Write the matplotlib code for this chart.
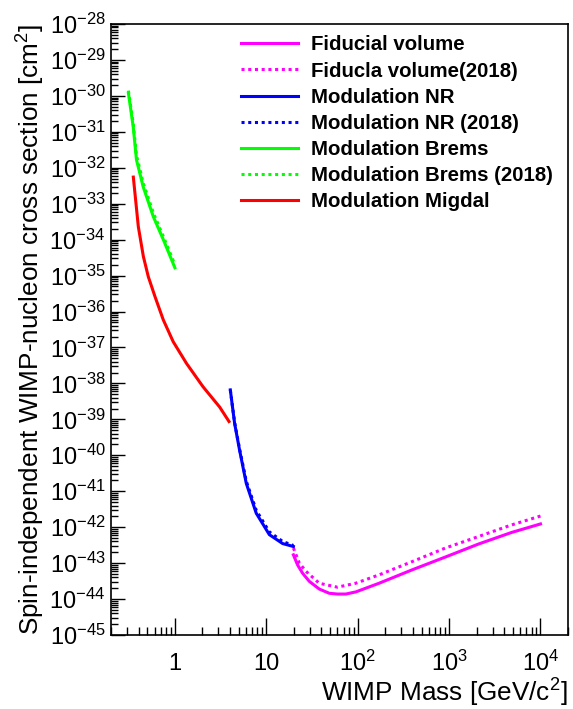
import matplotlib
matplotlib.use("Agg")
import matplotlib.pyplot as plt
from matplotlib.ticker import LogLocator, NullFormatter
from matplotlib.lines import Line2D

plt.rcParams['font.family'] = ['Liberation Sans', 'DejaVu Sans']
plt.rcParams['mathtext.fontset'] = 'custom'
plt.rcParams['mathtext.rm'] = 'Liberation Sans'
plt.rcParams['mathtext.it'] = 'Liberation Sans:italic'
plt.rcParams['mathtext.bf'] = 'Liberation Sans:bold'

# ---- data ----
fid_x = [19.8, 22.0, 25.0, 29.6, 38.0, 48.8, 60.1, 74.1, 95.3, 171, 394, 912, 2100, 4800, 10000]
fid_y = [1.70e-43, 8.9e-44, 5.2e-44, 3.1e-44, 1.9e-44, 1.45e-44, 1.38e-44, 1.38e-44, 1.58e-44,
         2.75e-44, 6.5e-44, 1.48e-43, 3.4e-43, 7.1e-43, 1.23e-42]

fid18_x = [19.8, 23.0, 27.2, 38.0, 60.0, 95.0, 171, 394, 912, 2100, 4800, 10000]
fid18_y = [2.63e-43, 1.0e-43, 5.9e-44, 2.75e-44, 2.14e-44, 2.75e-44, 4.7e-44, 1.1e-43,
           2.63e-43, 5.5e-43, 1.15e-42, 2.04e-42]

nr_x = [4.04, 4.5, 5.1, 6.04, 7.76, 10.8, 15.1, 19.8]
nr_y = [6.6e-39, 7.8e-40, 1.4e-40, 1.66e-41, 2.45e-42, 6.2e-43, 3.5e-43, 2.9e-43]

nr18_x = [4.04, 4.5, 5.1, 6.04, 7.76, 10.8, 15.1, 19.8]
nr18_y = [6.6e-39, 8.3e-40, 1.5e-40, 1.9e-41, 2.95e-42, 7.4e-43, 4.0e-43, 3.1e-43]

brems_x = [0.31, 0.35, 0.38, 0.45, 0.58, 0.75, 1.0]
brems_y = [1.2e-30, 1.38e-31, 1.66e-32, 2.95e-33, 4.4e-34, 9.8e-35, 1.65e-35]

brems18_x = [0.31, 0.35, 0.38, 0.45, 0.58, 0.75, 1.0]
brems18_y = [1.4e-30, 1.7e-31, 2.2e-32, 3.8e-33, 5.6e-34, 1.2e-34, 2.0e-35]

migdal_x = [0.351, 0.398, 0.452, 0.512, 0.606, 0.746, 0.958, 1.34, 2.03, 3.09, 3.91]
migdal_y = [5.5e-33, 2.3e-34, 3.4e-35, 9.3e-36, 2.6e-36, 5.9e-37, 1.45e-37, 3.6e-38,
            8.1e-39, 2.2e-39, 8.7e-40]

xtick_vals = [1, 10, 100, 1000, 10000]
xtick_labels = ['1', '10', r'$10^{2}$', r'$10^{3}$', r'$10^{4}$']
ytick_exps = list(range(-45, -27))

legend_labels = ['Fiducial volume', 'Fiducla volume(2018)', 'Modulation NR', 'Modulation NR (2018)',
                 'Modulation Brems', 'Modulation Brems (2018)', 'Modulation Migdal']

# ---- figure ----
W, H = 573, 709
fig = plt.figure(figsize=(W / 100, H / 100), dpi=100)
ax = fig.add_axes([111 / W, 1 - 635 / H, (568 - 111) / W, (635 - 24) / H])

lw = 2.2
dot = (0, (1, 1.2))
series = [
    (fid_x, fid_y, '#ff00ff', '-'),
    (fid18_x, fid18_y, '#ff00ff', dot),
    (nr_x, nr_y, '#0000ff', '-'),
    (nr18_x, nr18_y, '#0000ff', dot),
    (brems_x, brems_y, '#00ff00', '-'),
    (brems18_x, brems18_y, '#00ff00', dot),
    (migdal_x, migdal_y, '#ff0000', '-'),
]
handles = []
for (xs, ys, c, ls), lab in zip(series, legend_labels):
    ax.plot(xs, ys, color=c, ls=ls, lw=lw)
    handles.append(Line2D([], [], color=c, ls=ls, lw=lw, label=lab))

ax.set_xscale('log')
ax.set_yscale('log')
ax.set_xlim(0.2, 2e4)
ax.set_ylim(1e-45, 1e-28)

ax.set_xticks(xtick_vals)
ax.set_xticklabels(xtick_labels)
ax.xaxis.set_minor_locator(LogLocator(base=10, subs=range(2, 10), numticks=50))
ax.xaxis.set_minor_formatter(NullFormatter())
ax.set_yticks([10.0 ** e for e in ytick_exps])
ax.set_yticklabels([r'$10^{%d}$' % e for e in ytick_exps])
ax.yaxis.set_minor_locator(LogLocator(base=10, subs=range(2, 10), numticks=50))
ax.yaxis.set_minor_formatter(NullFormatter())

ax.tick_params(axis='both', which='both', direction='in', top=False, right=False, labelsize=17)
ax.tick_params(axis='x', which='major', length=12.5, width=1.0, pad=25.5)
ax.tick_params(axis='x', which='minor', length=6, width=1.0)
ax.tick_params(axis='y', which='major', length=10, width=1.0, pad=4)
ax.tick_params(axis='y', which='minor', length=5, width=1.0)
for lab in ax.get_xticklabels():
    lab.set_verticalalignment('baseline')
for s in ax.spines.values():
    s.set_linewidth(1.2)

ax.set_xlabel(r'WIMP Mass [GeV/c$^{2}$]', fontsize=18.8, loc='right', labelpad=1)
ax.set_ylabel(r'Spin-independent WIMP-nucleon cross section [cm$^{2}$]', fontsize=18.8, loc='top', labelpad=2)

leg = ax.legend(handles=handles, loc='upper left', bbox_to_anchor=(241 / W, 1 - 35.5 / H),
                bbox_transform=fig.transFigure, frameon=False, borderpad=0, borderaxespad=0,
                handlelength=2.8, handletextpad=0.65, labelspacing=0.35,
                prop={'weight': 'bold', 'size': 14.7})

fig.savefig('out.png', dpi=100)
